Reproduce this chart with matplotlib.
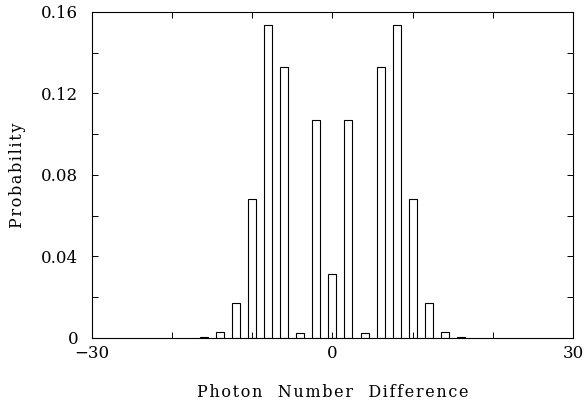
import matplotlib
matplotlib.use("Agg")
import matplotlib.pyplot as plt
import numpy as np

# photon number difference (even values) and probabilities
diffs = [-16, -14, -12, -10, -8, -6, -4, -2, 0, 2, 4, 6, 8, 10, 12, 14, 16]
probs = [0.0004, 0.0028, 0.017, 0.068, 0.1535, 0.133, 0.0023, 0.107, 0.0315,
         0.107, 0.0023, 0.133, 0.1535, 0.068, 0.017, 0.0028, 0.0004]

x_labeled = [-30, 0, 30]
y_labeled = [0, 0.04, 0.08, 0.12, 0.16]


def spaced(text):
    # the original typesetting is letter-spaced; mimic with hair spaces
    return "\u200a".join(text)


plt.rcParams["font.family"] = ["DejaVu Serif"]

fig = plt.figure(figsize=(5.85, 4.04), dpi=100)
ax = fig.add_axes([0.1573, 0.1634, 0.822, 0.807])

ax.bar(diffs, probs, width=1.0, facecolor="white", edgecolor="black", linewidth=0.8)

ax.set_xlim(-30, 30)
ax.set_ylim(0, 0.16)

ax.set_xticks(np.arange(-30, 31, 10))
ax.set_xticklabels(["\u221230" if v == -30 else (str(v) if v in x_labeled else "")
                    for v in range(-30, 31, 10)])
y_ticks = np.round(np.arange(0, 0.161, 0.02), 2)
ax.set_yticks(y_ticks)
ax.set_yticklabels([("0" if v == 0 else f"{v:.2f}") if any(abs(v - y) < 1e-9 for y in y_labeled) else ""
                    for v in y_ticks])

ax.tick_params(direction="in", length=4, width=0.7, top=True, right=True,
               labelsize=12, colors="black")
ax.tick_params(axis="y", pad=10)
ax.tick_params(axis="x", pad=5)

for s in ax.spines.values():
    s.set_linewidth(0.8)

ax.set_xlabel(spaced("Photon") + "   " + spaced("Number") + "   " + spaced("Difference"), fontsize=11.5)
ax.set_ylabel(spaced("Probability"), fontsize=11.5)
ax.xaxis.set_label_coords(0.5, -0.166)
ax.xaxis.label.set_va("center")
ax.yaxis.set_label_coords(-0.154, 0.5)
ax.yaxis.label.set_va("center")

fig.savefig("out.png", dpi=100)
plt.close(fig)
